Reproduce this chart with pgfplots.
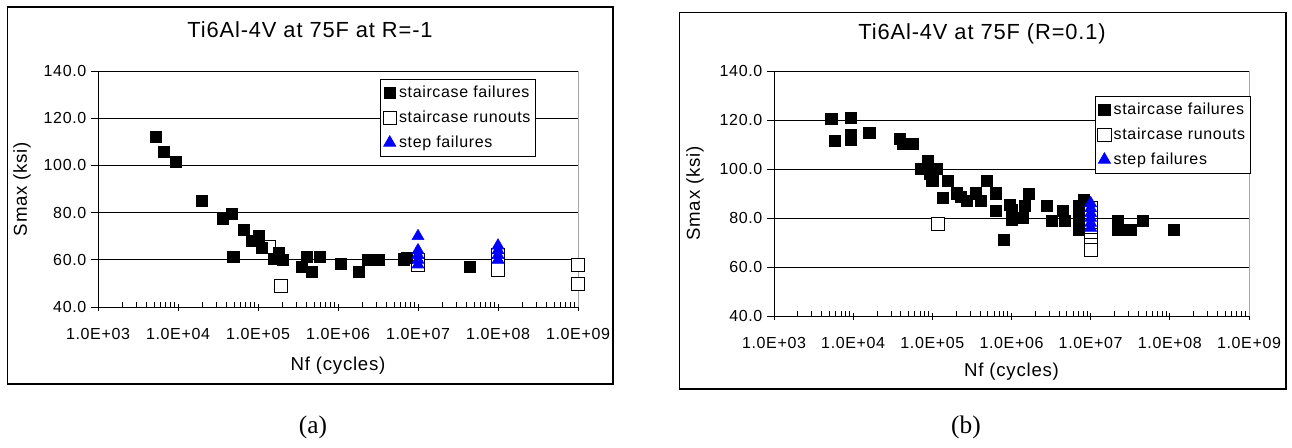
\documentclass[border=0pt]{standalone}
\usepackage{pgfplots}
\pgfplotsset{compat=1.18}
\usepackage{fontspec}
\setmainfont{Liberation Sans}[LetterSpace=4]
\newfontfamily\seriffont{Liberation Serif}

\pgfplotstableread{
N S
5300 112.1
6600 105.8
9400 101.6
20000 84.9
36500 77.6
47000 79.4
49000 61.2
66000 72.6
84000 67.9
103000 70.1
112000 65.0
158000 60.3
180000 62.8
204000 59.9
355000 57.0
407000 61.2
470000 55.0
596000 61.2
1090000 58.2
1820000 55.0
2370000 59.9
3200000 59.9
6600000 60.2
7200000 60.8
44500000 56.9
}\AFail

\pgfplotstableread{
N S
137000 65.4
194000 49.0
1e7 60
1e7 58
1e8 62
1e8 60
1e8 58
1e8 56
1e9 57.8
1e9 49.8
}\ARun

\pgfplotstableread{
N S
1e7 70
1e7 64
1e7 62
1e7 60
1e7 58
1e8 66
1e8 64
1e8 62
1e8 60
}\AStep

\pgfplotstableread{
N S
5300 120.4
5900 111.5
9400 120.8
9400 114
9400 112
16000 114.9
39000 112.2
43000 110.3
57000 110.3
71000 100
87000 103.3
94000 98.3
100000 95.3
113000 100
135000 88.3
156000 95.2
204000 90.1
230000 88.8
270000 87.1
355000 90.1
410000 87.1
490000 95.2
630000 90.1
630000 83
790000 71.1
960000 85.4
1000000 83.3
1000000 79.2
1380000 80.2
1480000 85
1650000 89.9
2800000 85
3200000 79
4400000 83
4700000 79
7100000 85
7100000 80
7100000 75.1
8100000 87.4
22000000 79
22000000 75.1
26000000 75.1
32000000 75.1
45000000 79
113000000 75.1
}\BFail

\pgfplotstableread{
N S
117000 77.6
1e7 84
1e7 82
1e7 80
1e7 77
1e7 73
1e7 71
1e7 69
1e7 67
}\BRun

\pgfplotstableread{
N S
1e7 86
1e7 84
1e7 82
1e7 80
1e7 78
1e7 76
}\BStep

\pgfplotsset{
  every axis/.append style={
    scale only axis,
    xmode=log,
    xmin=1e3, xmax=1e9, ymin=40, ymax=140,
    clip=false,
    axis x line*=bottom, axis y line*=left,
    axis line style={black, line width=0.75pt},
    xtick={1e3,1e4,1e5,1e6,1e7,1e8,1e9},
    xticklabels={1.0E+03,1.0E+04,1.0E+05,1.0E+06,1.0E+07,1.0E+08,1.0E+09},
    minor xtick={2e3,3e3,4e3,5e3,6e3,7e3,8e3,9e3,
                 2e4,3e4,4e4,5e4,6e4,7e4,8e4,9e4,
                 2e5,3e5,4e5,5e5,6e5,7e5,8e5,9e5,
                 2e6,3e6,4e6,5e6,6e6,7e6,8e6,9e6,
                 2e7,3e7,4e7,5e7,6e7,7e7,8e7,9e7,
                 2e8,3e8,4e8,5e8,6e8,7e8,8e8,9e8},
    ytick={40,60,80,100,120,140},
    yticklabels={40.0,60.0,80.0,100.0,120.0,140.0},
    xtick align=center, ytick align=outside,
    major tick length=5.25pt, minor tick length=3.75pt,
    minor tick style={yshift=1.875pt},
    tick style={black, line width=0.6pt},
    ymajorgrids=true,
    major grid style={black, line width=0.6pt},
    tick label style={font=\fontsize{12}{14}\selectfont},
    xticklabel style={yshift=-9.5pt},
    label style={font=\fontsize{14}{17}\selectfont},
    legend cell align=left,
    legend style={draw=black, line width=0.6pt, fill=white,
      font=\fontsize{12}{14}\selectfont,
      inner xsep=2pt, inner ysep=3pt, row sep=4.5pt},
  }
}

\begin{document}
\begin{tikzpicture}
\useasboundingbox (0,0) rectangle (969pt,-335.25pt);
\fill[white] (0,0) rectangle (969pt,-335.25pt);

% ---------- (a)
\begin{axis}[
  at={(73.5pt,-230.25pt)}, anchor=south west,
  width=360pt, height=177pt,
  title={Ti6Al-4V at 75F at R=-1},
  title style={at={(axis description cs:0.4417,1.142)}, anchor=center, font=\fontsize{16.4}{19}\selectfont},
  xlabel={Nf (cycles)}, ylabel={Smax (ksi)},
  xlabel style={at={(axis description cs:0.5,-0.25)}, anchor=center},
  ylabel style={at={(axis description cs:-0.158,0.5)}, anchor=center},
  legend style={at={(0.913,0.966)}, anchor=north east},
]
\draw[gray!70, line width=0.75pt] (rel axis cs:1,0) -- (rel axis cs:1,1);
\addplot[only marks, mark=square*, mark size=5pt, mark options={draw=black, fill=white, line width=0.6pt}, forget plot] table[x=N, y=S] {\ARun};
\addplot[only marks, mark=square*, mark size=4.2pt, mark options={draw=black, fill=black}] table[x=N, y=S] {\AFail};
\addlegendentry{staircase failures}
\addlegendimage{only marks, mark=square*, mark size=5pt, mark options={draw=black, fill=white, line width=0.6pt}}
\addlegendentry{staircase runouts}
\addplot[only marks, mark=triangle*, mark size=5.2pt, mark options={draw=blue, fill=blue}] table[x=N, y=S] {\AStep};
\addlegendentry{step failures}
\end{axis}

% ---------- (b)
\begin{axis}[
  at={(580.5pt,-237pt)}, anchor=south west,
  width=356.25pt, height=183.75pt,
  title={Ti6Al-4V at 75F (R=0.1)},
  title style={at={(axis description cs:0.438,1.118)}, anchor=center, font=\fontsize{16.4}{19}\selectfont},
  xlabel={Nf (cycles)}, ylabel={Smax (ksi)},
  xlabel style={at={(axis description cs:0.5,-0.227)}, anchor=center},
  ylabel style={at={(axis description cs:-0.166,0.5)}, anchor=center},
  legend style={at={(1.004,0.898)}, anchor=north east},
]
\draw[gray!70, line width=0.75pt] (rel axis cs:1,0) -- (rel axis cs:1,1);
\addplot[only marks, mark=square*, mark size=5pt, mark options={draw=black, fill=white, line width=0.6pt}, forget plot] table[x=N, y=S] {\BRun};
\addplot[only marks, mark=square*, mark size=4.2pt, mark options={draw=black, fill=black}] table[x=N, y=S] {\BFail};
\addlegendentry{staircase failures}
\addlegendimage{only marks, mark=square*, mark size=5pt, mark options={draw=black, fill=white, line width=0.6pt}}
\addlegendentry{staircase runouts}
\addplot[only marks, mark=triangle*, mark size=5.2pt, mark options={draw=blue, fill=blue}] table[x=N, y=S] {\BStep};
\addlegendentry{step failures}
\end{axis}

% frames
\draw[black, line width=0.9pt] (5.625pt,-5.25pt) rectangle (459.75pt,-288pt);
\draw[black, line width=0.9pt] (509.6pt,-9.5pt) rectangle (964.5pt,-291.75pt);

\node[font=\seriffont\fontsize{19}{22}\selectfont] at (234.75pt,-320.25pt) {(a)};
\node[font=\seriffont\fontsize{19}{22}\selectfont] at (724.5pt,-320.25pt) {(b)};
\end{tikzpicture}
\end{document}
